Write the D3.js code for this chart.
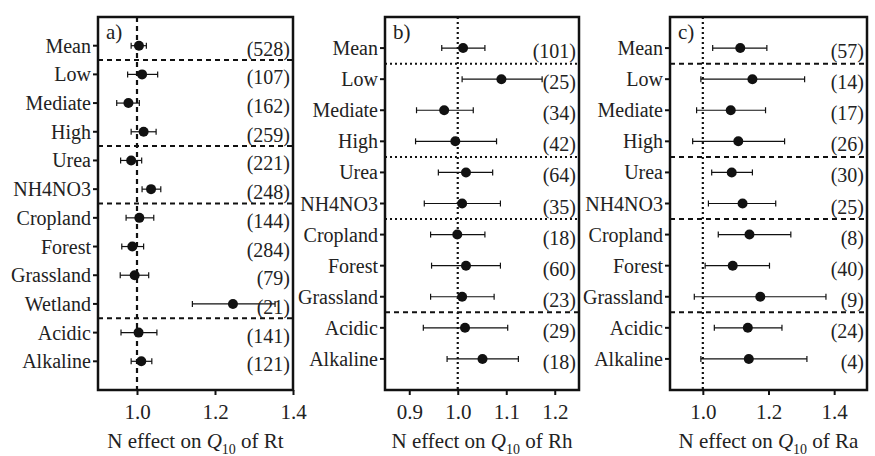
<!DOCTYPE html>
<html>
<head>
<meta charset="utf-8">
<script src="https://cdn.jsdelivr.net/npm/d3@7"></script>
<style>
  svg text, svg tspan, .tick text { font-family: "Liberation Serif", "Times New Roman", Times, serif !important; }
</style>
</head>
<body style="margin:0">
<script>
// panel a) Rt
var catsA = ["Mean", "Low", "Mediate", "High", "Urea", "NH4NO3", "Cropland", "Forest", "Grassland", "Wetland", "Acidic", "Alkaline"];
var meanA = [1.005, 1.013, 0.978, 1.017, 0.985, 1.036, 1.006, 0.988, 0.994, 1.246, 1.004, 1.011];
var lowA  = [0.985, 0.976, 0.948, 0.985, 0.958, 1.013, 0.972, 0.961, 0.957, 1.142, 0.959, 0.985];
var highA = [1.024, 1.053, 1.006, 1.049, 1.012, 1.061, 1.043, 1.017, 1.030, 1.354, 1.051, 1.038];
var nA    = [528, 107, 162, 259, 221, 248, 144, 284, 79, 21, 141, 121];
var breaksA = ["Mean", "High", "NH4NO3", "Wetland"];
var ticksA = [1.0, 1.2, 1.4];

// panel b) Rh
var catsB = ["Mean", "Low", "Mediate", "High", "Urea", "NH4NO3", "Cropland", "Forest", "Grassland", "Acidic", "Alkaline"];
var meanB = [1.011, 1.090, 0.972, 0.995, 1.017, 1.009, 0.999, 1.017, 1.009, 1.015, 1.051];
var lowB  = [0.967, 1.009, 0.915, 0.913, 0.960, 0.931, 0.944, 0.946, 0.944, 0.929, 0.978];
var highB = [1.056, 1.174, 1.032, 1.080, 1.072, 1.088, 1.056, 1.088, 1.075, 1.103, 1.125];
var nB    = [101, 25, 34, 42, 64, 35, 18, 60, 23, 29, 18];
var breaksB = ["Mean", "High", "NH4NO3", "Grassland"];
var ticksB = [0.9, 1.0, 1.1, 1.2];

// panel c) Ra
var catsC = ["Mean", "Low", "Mediate", "High", "Urea", "NH4NO3", "Cropland", "Forest", "Grassland", "Acidic", "Alkaline"];
var meanC = [1.114, 1.151, 1.085, 1.108, 1.088, 1.121, 1.142, 1.091, 1.175, 1.137, 1.140];
var lowC  = [1.030, 0.994, 0.981, 0.969, 1.027, 1.017, 1.047, 1.007, 0.974, 1.035, 0.994];
var highC = [1.195, 1.310, 1.191, 1.249, 1.151, 1.222, 1.268, 1.203, 1.375, 1.241, 1.317];
var nC    = [57, 14, 17, 26, 30, 25, 8, 40, 9, 24, 4];
var breaksC = ["Mean", "High", "NH4NO3", "Grassland"];
var ticksC = [1.0, 1.2, 1.4];

var width = 875, height = 456;
var topY = 17, bottomY = 390;

var svg = d3.select("body").append("svg")
  .attr("width", width).attr("height", height);

var dashed = "5,4", dotted = "2,3";

function drawPanel(p) {
  var g = svg.append("g");
  var x = d3.scaleLinear().domain(p.domain).range([p.left, p.right]);
  var y = d3.scaleLinear().domain([0, p.cats.length + 1]).range([topY, bottomY]);
  var rows = p.cats.map(function(c, i) {
    return { cat: c, i: i, m: p.mean[i], lo: p.low[i], hi: p.high[i], n: p.n[i] };
  });

  // reference line at 1
  g.append("line")
    .attr("x1", x(1)).attr("x2", x(1))
    .attr("y1", topY).attr("y2", bottomY)
    .attr("stroke", "#111").attr("stroke-width", 2.2)
    .attr("stroke-dasharray", p.refDash);

  // group separators
  p.breaks.forEach(function(b, k) {
    var i = p.cats.indexOf(b);
    g.append("line")
      .attr("x1", p.left).attr("x2", p.right)
      .attr("y1", y(i + 1.5)).attr("y2", y(i + 1.5))
      .attr("stroke", "#111").attr("stroke-width", 2)
      .attr("stroke-dasharray", p.sepDash[k]);
  });

  // error bars
  var eb = g.selectAll(".eb").data(rows).enter().append("g");
  eb.append("line")
    .attr("x1", function(d) { return x(d.lo); })
    .attr("x2", function(d) { return x(d.hi); })
    .attr("y1", function(d) { return y(d.i + 1); })
    .attr("y2", function(d) { return y(d.i + 1); })
    .attr("stroke", "#111").attr("stroke-width", 1.2);
  eb.selectAll(".cap").data(function(d) { return [[d.lo, d.i], [d.hi, d.i]]; })
    .enter().append("line")
    .attr("x1", function(d) { return x(d[0]); })
    .attr("x2", function(d) { return x(d[0]); })
    .attr("y1", function(d) { return y(d[1] + 1) - 3; })
    .attr("y2", function(d) { return y(d[1] + 1) + 3; })
    .attr("stroke", "#111").attr("stroke-width", 1.2);

  g.selectAll(".pt").data(rows).enter().append("circle")
    .attr("cx", function(d) { return x(d.m); })
    .attr("cy", function(d) { return y(d.i + 1); })
    .attr("r", 5).attr("fill", "#111");

  // counts
  g.selectAll(".cnt").data(rows).enter().append("text")
    .attr("x", p.right - 3)
    .attr("y", function(d) { return y(d.i + 1) + 3; })
    .attr("text-anchor", "end")
    .attr("dominant-baseline", "central")
    .attr("font-size", 20).attr("font-family", "Liberation Serif").attr("fill", "#222")
    .text(function(d) { return "(" + d.n + ")"; });

  // y labels and ticks
  g.selectAll(".yt").data(rows).enter().append("line")
    .attr("x1", p.left - 5).attr("x2", p.left)
    .attr("y1", function(d) { return y(d.i + 1); })
    .attr("y2", function(d) { return y(d.i + 1); })
    .attr("stroke", "#111").attr("stroke-width", 2);
  g.selectAll(".yl").data(rows).enter().append("text")
    .attr("x", p.left - 7)
    .attr("y", function(d) { return y(d.i + 1); })
    .attr("text-anchor", "end")
    .attr("dominant-baseline", "central")
    .attr("font-size", 20).attr("font-family", "Liberation Serif").attr("fill", "#222")
    .text(function(d) { return d.cat; });

  // x axis
  var ax = g.append("g")
    .attr("transform", "translate(0," + bottomY + ")")
    .call(d3.axisBottom(x).tickValues(p.ticks).tickSize(5).tickPadding(9)
      .tickFormat(d3.format(".1f")));
  ax.attr("font-family", "Liberation Serif").attr("font-size", 21);
  ax.select(".domain").remove();
  ax.selectAll(".tick line").attr("stroke", "#111").attr("stroke-width", 2);
  ax.selectAll(".tick text").attr("fill", "#222");

  // frame
  g.append("rect")
    .attr("x", p.left).attr("y", topY)
    .attr("width", p.right - p.left).attr("height", bottomY - topY)
    .attr("fill", "none").attr("stroke", "#111").attr("stroke-width", 2.5);

  // panel label
  g.append("text")
    .attr("x", p.left + 8).attr("y", topY + 22)
    .attr("font-size", 21).attr("font-family", "Liberation Serif").attr("fill", "#222")
    .text(p.label);

  // axis title
  var t = g.append("text")
    .attr("x", (p.left + p.right) / 2).attr("y", 448)
    .attr("text-anchor", "middle")
    .attr("font-size", 21).attr("font-family", "Liberation Serif").attr("fill", "#222");
  t.append("tspan").text("N effect on ");
  t.append("tspan").attr("font-style", "italic").text("Q");
  t.append("tspan").attr("dy", 6).attr("font-size", 14).text("10");
  t.append("tspan").attr("dy", -6).text(" of " + p.resp);
}

drawPanel({ cats: catsA, mean: meanA, low: lowA, high: highA, n: nA, breaks: breaksA, ticks: ticksA,
  domain: [0.9, 1.4], left: 98, right: 293, label: "a)", resp: "Rt",
  refDash: dashed, sepDash: [dashed, dashed, dashed, dashed] });
drawPanel({ cats: catsB, mean: meanB, low: lowB, high: highB, n: nB, breaks: breaksB, ticks: ticksB,
  domain: [0.85, 1.25], left: 385, right: 579, label: "b)", resp: "Rh",
  refDash: dotted, sepDash: [dotted, dotted, dotted, dashed] });
drawPanel({ cats: catsC, mean: meanC, low: lowC, high: highC, n: nC, breaks: breaksC, ticks: ticksC,
  domain: [0.9, 1.5], left: 670, right: 867, label: "c)", resp: "Ra",
  refDash: dotted, sepDash: [dashed, dashed, dashed, dashed] });
</script>
</body>
</html>
